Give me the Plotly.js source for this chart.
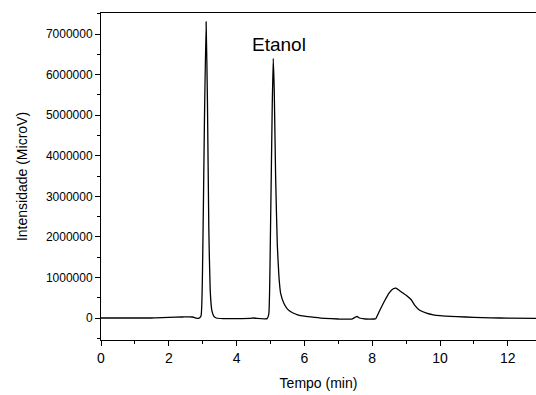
<!DOCTYPE html>
<html>
<head>
<meta charset="utf-8">
<script src="https://cdn.plot.ly/plotly-3.0.1.min.js"></script>
<style>
  html, body { margin: 0; padding: 0; background: #fff; }
  #chart { width: 536px; height: 395px; }
</style>
</head>
<body>
<div id="chart"></div>
<script>
// Chromatogram: retention time (min) vs detector signal (MicroV)
const tempo = [
  0.0, 0.5, 1.0, 1.5, 1.6, 2.0, 2.4, 2.6, 2.7, 2.8, 2.88,
  2.95, 3.0, 3.05, 3.1, 3.14, 3.18, 3.22, 3.27, 3.33, 3.4,
  3.6, 4.0, 4.4, 4.5, 4.6, 4.9,
  4.95, 5.0, 5.05, 5.08, 5.11, 5.15, 5.2, 5.25, 5.3, 5.4, 5.5, 5.65, 5.8, 6.0, 6.3, 6.6,
  7.0, 7.4, 7.5, 7.55, 7.62, 7.8, 8.05,
  8.1, 8.2, 8.35, 8.5, 8.62, 8.7, 8.8, 9.0, 9.15, 9.25, 9.4, 9.6, 9.8,
  10.0, 10.5, 11.0, 11.5, 12.0, 12.83
];
const intensidade = [
  0, 0, 0, 0, 5000, 15000, 25000, 30000, 25000, 0, -10000,
  50000, 1500000, 4800000, 7300000, 5300000, 2200000, 700000, 180000, 40000, 0,
  -15000, -15000, -10000, 0, -10000, -15000,
  100000, 2200000, 5200000, 6400000, 5600000, 3500000, 1800000, 1000000, 600000, 350000, 220000, 130000, 80000, 45000, 15000, -10000,
  -25000, -25000, 20000, 40000, 0, -25000, -25000,
  -20000, 150000, 400000, 620000, 720000, 735000, 680000, 560000, 450000, 320000, 190000, 120000, 80000,
  60000, 35000, 15000, 5000, -5000, -10000
];
const xTicks = [0, 2, 4, 6, 8, 10, 12];
const yTicks = [0, 1000000, 2000000, 3000000, 4000000, 5000000, 6000000, 7000000];
const peakLabel = 'Etanol';
const peakLabelPos = [5.25, 6750000];

const font = 'Liberation Sans, Arial, sans-serif';

const trace = {
  x: tempo,
  y: intensidade,
  type: 'scatter',
  mode: 'lines',
  line: { color: '#000', width: 1.3, shape: 'spline', smoothing: 0.4 },
  hoverinfo: 'skip'
};

const layout = {
  width: 536,
  height: 395,
  margin: { l: 101, r: 0, t: 13, b: 55 },
  paper_bgcolor: '#fff',
  plot_bgcolor: '#fff',
  showlegend: false,
  font: { family: font, color: '#000', size: 13 },
  xaxis: {
    range: [0, 12.83],
    tickvals: xTicks,
    ticktext: xTicks.map(String),
    ticks: 'outside',
    ticklen: 5,
    tickwidth: 1,
    tickcolor: '#000',
    minor: { dtick: 1, tick0: 0, ticks: 'outside', ticklen: 3, tickcolor: '#000', showgrid: false },
    showline: true,
    linecolor: '#000',
    linewidth: 1,
    mirror: true,
    showgrid: false,
    zeroline: false,
    tickfont: { family: font, size: 14, color: '#000' },
    title: { text: 'Tempo (min)', font: { family: font, size: 14, color: '#000' }, standoff: 13 }
  },
  yaxis: {
    range: [-542000, 7518000],
    tickvals: yTicks,
    ticktext: yTicks.map(String),
    ticks: 'outside',
    ticklen: 5,
    tickwidth: 1,
    tickcolor: '#000',
    minor: { dtick: 500000, tick0: 500000, ticks: 'outside', ticklen: 3, tickcolor: '#000', showgrid: false },
    showline: true,
    linecolor: '#000',
    linewidth: 1,
    showgrid: false,
    zeroline: false,
    tickfont: { family: font, size: 12, color: '#000' },
    title: { text: 'Intensidade (MicroV)', font: { family: font, size: 14, color: '#000' }, standoff: 14 }
  },
  annotations: [{
    x: peakLabelPos[0], y: peakLabelPos[1],
    xref: 'x', yref: 'y',
    text: peakLabel,
    showarrow: false,
    font: { family: font, size: 19, color: '#000' }
  }]
};

Plotly.newPlot('chart', [trace], layout, { staticPlot: true, displayModeBar: false });
</script>
</body>
</html>
